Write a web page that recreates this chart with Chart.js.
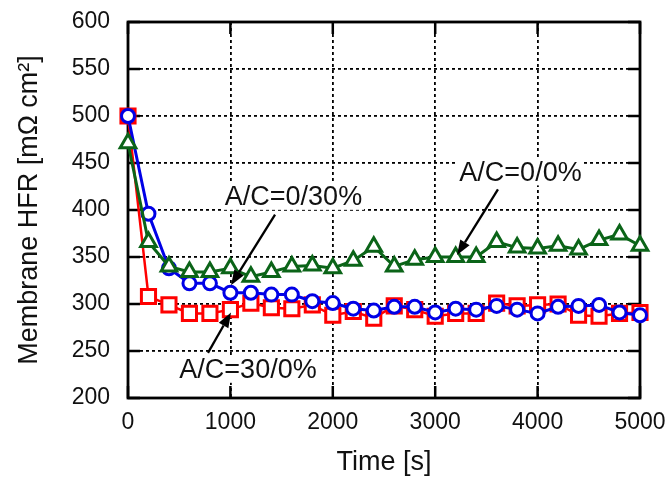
<!DOCTYPE html>
<html>
<head>
<meta charset="utf-8">
<script src="https://cdn.jsdelivr.net/npm/chart.js@4/dist/chart.umd.min.js"></script>
<style>
html,body{margin:0;padding:0;background:#fff;}
#wrap{width:668px;height:479px;position:relative;}
</style>
</head>
<body>
<div id="wrap"><canvas id="c" width="668" height="479"></canvas></div>
<script>
const timeSec = [0,200,400,600,800,1000,1200,1400,1600,1800,2000,2200,2400,2600,2800,3000,3200,3400,3600,3800,4000,4200,4400,4600,4800,5000];
const hfrAC_0_0  = [471,366,340,334,334,338,329,334,340,341,338,346,361,340,347,350,350,350,366,360,359,362,358,368,374,362];
const hfrAC_0_30 = [500,396,338,322,322,312,312,310,310,303,301,295,293,297,297,291,295,294,298,294,290,297,298,299,291,288];
const hfrAC_30_0 = [500,308,299,290,290,294,301,296,295,299,288,292,285,298,294,287,290,290,301,298,299,300,288,287,290,291];
const xTicks = [0,1000,2000,3000,4000,5000];
const yTicks = [200,250,300,350,400,450,500,550,600];
const annotations = [
  {text:'A/C=0/30%', tx:1616, ty:414, fx:1436, fy:395, hx:1006, hy:320},
  {text:'A/C=30/0%', tx:1172, ty:230, fx:781, fy:248, hx:1006, hy:291},
  {text:'A/C=0/0%',  tx:3833, ty:440, fx:3613, fy:422, hx:3213, hy:352}
];

const FONT = "'Liberation Sans', Arial, Helvetica, sans-serif";
const toXY = (xs, ys) => xs.map((x,i)=>({x:x, y:ys[i]}));

const framePlugin = {
  id:'frame',
  beforeDatasetsDraw(chart){
    const {ctx, chartArea:a, scales:{x, y}} = chart;
    ctx.save();
    ctx.strokeStyle = '#000';
    ctx.lineWidth = 2.5;
    const L = 12;
    ctx.beginPath();
    xTicks.forEach(v=>{
      const px = x.getPixelForValue(v);
      ctx.moveTo(px, a.bottom); ctx.lineTo(px, a.bottom - L);
      ctx.moveTo(px, a.top); ctx.lineTo(px, a.top + L);
    });
    yTicks.forEach(v=>{
      const py = y.getPixelForValue(v);
      ctx.moveTo(a.left, py); ctx.lineTo(a.left + L, py);
      ctx.moveTo(a.right, py); ctx.lineTo(a.right - L, py);
    });
    ctx.stroke();
    ctx.lineWidth = 2.8;
    ctx.strokeRect(a.left, a.top, a.right - a.left, a.bottom - a.top);
    ctx.restore();
  }
};

const annPlugin = {
  id:'ann',
  afterDatasetsDraw(chart){
    const {ctx, scales:{x, y}} = chart;
    ctx.save();
    annotations.forEach(an=>{
      const fx = x.getPixelForValue(an.fx), fy = y.getPixelForValue(an.fy);
      const hx = x.getPixelForValue(an.hx), hy = y.getPixelForValue(an.hy);
      const ang = Math.atan2(hy-fy, hx-fx);
      const hl = 15, hw = 5.5;
      const bx = hx - hl*Math.cos(ang), by = hy - hl*Math.sin(ang);
      ctx.strokeStyle = '#000'; ctx.fillStyle = '#000'; ctx.lineWidth = 2.3;
      ctx.beginPath(); ctx.moveTo(fx, fy); ctx.lineTo(bx, by); ctx.stroke();
      ctx.beginPath();
      ctx.moveTo(hx, hy);
      ctx.lineTo(bx + hw*Math.sin(ang), by - hw*Math.cos(ang));
      ctx.lineTo(bx - hw*Math.sin(ang), by + hw*Math.cos(ang));
      ctx.closePath(); ctx.fill();
      const tx = x.getPixelForValue(an.tx), ty = y.getPixelForValue(an.ty);
      ctx.font = '27px ' + FONT;
      const w = ctx.measureText(an.text).width;
      ctx.fillStyle = '#fff';
      ctx.fillRect(tx - w/2 - 2, ty - 13, w + 4, 26);
      ctx.fillStyle = '#111';
      ctx.textAlign = 'center'; ctx.textBaseline = 'middle';
      ctx.fillText(an.text, tx, ty + 1);
    });
    ctx.restore();
  }
};

new Chart(document.getElementById('c'), {
  type:'line',
  data:{
    datasets:[
      {label:'A/C=0/0%', data:toXY(timeSec, hfrAC_0_0), borderColor:'#0b6418', backgroundColor:'#fff',
       borderWidth:3, pointStyle:'triangle', pointRadius:9, pointBorderWidth:3, pointBackgroundColor:'#fff', pointBorderColor:'#0b6418', clip:false, tension:0},
      {label:'A/C=0/30%', data:toXY(timeSec, hfrAC_0_30), borderColor:'#0000e6', backgroundColor:'#fff',
       borderWidth:3, pointStyle:'circle', pointRadius:6.5, pointBorderWidth:3, pointBackgroundColor:'#fff', pointBorderColor:'#0000e6', clip:false, tension:0},
      {label:'A/C=30/0%', data:toXY(timeSec, hfrAC_30_0), borderColor:'#ff0000', backgroundColor:'#fff',
       borderWidth:2.5, pointStyle:'rect', pointRadius:10, pointBorderWidth:3, pointBackgroundColor:'#fff', pointBorderColor:'#ff0000', clip:false, tension:0}
    ]
  },
  options:{
    responsive:false,
    animation:false,
    devicePixelRatio:1,
    layout:{autoPadding:false, padding:{left:0, right:28, top:22, bottom:0}},
    plugins:{legend:{display:false}, tooltip:{enabled:false}},
    scales:{
      x:{
        type:'linear', min:0, max:5000,
        afterFit(s){ s.height = 81; s.paddingLeft = 0; s.paddingRight = 0; },
        afterBuildTicks(s){ s.ticks = xTicks.map(v=>({value:v})); },
        ticks:{color:'#111', font:{family:FONT, size:23}, padding:11, maxRotation:0, autoSkip:false, callback:v=>String(v)},
        grid:{color:'#000', lineWidth:1.8, drawTicks:false},
        border:{display:false, dash:[3,3]},
        title:{display:true, text:'Time [s]', color:'#111', font:{family:FONT, size:27}, padding:{top:0, bottom:0}}
      },
      y:{
        type:'linear', min:200, max:600,
        afterFit(s){ s.width = 128; s.paddingTop = 0; s.paddingBottom = 0; },
        afterBuildTicks(s){ s.ticks = yTicks.map(v=>({value:v})); },
        ticks:{color:'#111', font:{family:FONT, size:23}, padding:18, autoSkip:false, callback:v=>String(v)},
        grid:{color:'#000', lineWidth:1.8, drawTicks:false},
        border:{display:false, dash:[3,3]},
        title:{display:true, text:'Membrane HFR [mΩ cm²]', color:'#111', font:{family:FONT, size:27}, padding:{top:13, bottom:0}}
      }
    }
  },
  plugins:[framePlugin, annPlugin]
});
</script>
</body>
</html>
